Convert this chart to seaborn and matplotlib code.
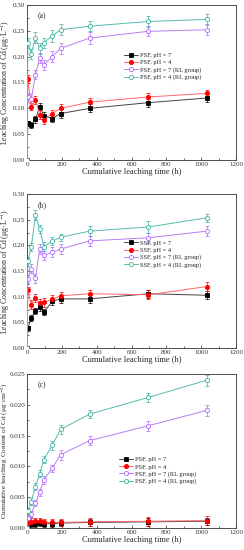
import numpy as np
import pandas as pd
import matplotlib
matplotlib.use("Agg")
import matplotlib.pyplot as plt
import seaborn as sns
from matplotlib.ticker import MultipleLocator

sns.set_theme(style="ticks")
plt.rcParams['font.family'] = ['Liberation Serif', 'DejaVu Serif']
plt.rcParams['mathtext.fontset'] = 'stix'

# ---------------- data ----------------
time_h = [0, 4, 24, 48, 72, 96, 144, 192, 360, 696, 1032]

# panel (a) PSF leaching concentration (ug/L)
a_ph7 = [0, 0.071, 0.068, 0.079, 0.103, 0.086, 0.080, 0.090, 0.100, 0.111, 0.120]
a_ph4 = [0, 0.157, 0.103, 0.116, 0.088, 0.077, 0.090, 0.100, 0.112, 0.122, 0.129]
a_ph7_rl = [0, 0.121, 0.118, 0.165, 0.197, 0.184, 0.200, 0.216, 0.236, 0.249, 0.252]
a_ph4_rl = [0, 0.227, 0.205, 0.237, 0.216, 0.227, 0.240, 0.252, 0.259, 0.268, 0.272]
a_err7 = [0, 0.005, 0.006, 0.007, 0.007, 0.006, 0.007, 0.008, 0.008, 0.008, 0.007]
a_err4 = [0, 0.008, 0.007, 0.008, 0.008, 0.007, 0.007, 0.008, 0.008, 0.007, 0.007]
a_err7rl = [0, 0.008, 0.009, 0.009, 0.010, 0.010, 0.011, 0.010, 0.011, 0.010, 0.011]
a_err4rl = [0, 0.010, 0.009, 0.010, 0.010, 0.010, 0.011, 0.011, 0.010, 0.010, 0.011]

# panel (b) SSF leaching concentration (ug/L)
b_ph7 = [0, 0.039, 0.059, 0.073, 0.080, 0.070, 0.091, 0.096, 0.096, 0.106, 0.103]
b_ph4 = [0, 0.113, 0.085, 0.098, 0.088, 0.089, 0.095, 0.102, 0.106, 0.104, 0.120]
b_ph7_rl = [0, 0.135, 0.155, 0.136, 0.193, 0.181, 0.187, 0.193, 0.209, 0.215, 0.228]
b_ph4_rl = [0, 0.169, 0.197, 0.259, 0.232, 0.198, 0.208, 0.216, 0.228, 0.236, 0.254]
b_err7 = [0, 0.005, 0.006, 0.006, 0.007, 0.006, 0.007, 0.008, 0.008, 0.008, 0.008]
b_err4 = [0, 0.007, 0.008, 0.008, 0.008, 0.008, 0.008, 0.007, 0.008, 0.009, 0.008]
b_err7rl = [0, 0.008, 0.009, 0.009, 0.010, 0.009, 0.010, 0.010, 0.010, 0.010, 0.009]
b_err4rl = [0, 0.009, 0.008, 0.010, 0.008, 0.008, 0.008, 0.007, 0.010, 0.011, 0.008]

# panel (c) PSF cumulative leaching content (ug/cm2)
c_ph7 = [0, 0.0005, 0.0006, 0.0007, 0.0008, 0.0007, 0.0007, 0.0008, 0.0009, 0.0010, 0.0011]
c_ph4 = [0, 0.0008, 0.0010, 0.0011, 0.0011, 0.0009, 0.0009, 0.0009, 0.0010, 0.0011, 0.0012]
c_ph7_rl = [0, 0.0016, 0.0023, 0.0040, 0.0058, 0.0078, 0.0097, 0.0119, 0.0142, 0.0166, 0.0191]
c_ph4_rl = [0, 0.0027, 0.0043, 0.0067, 0.0088, 0.0111, 0.0134, 0.0160, 0.0185, 0.0212, 0.0240]
c_err7 = [0, 0.0004, 0.0005, 0.0005, 0.0005, 0.0005, 0.0005, 0.0005, 0.0006, 0.0006, 0.0006]
c_err4 = [0, 0.0005, 0.0006, 0.0006, 0.0006, 0.0006, 0.0006, 0.0006, 0.0007, 0.0007, 0.0007]
c_err7rl = [0, 0.0005, 0.0005, 0.0005, 0.0006, 0.0006, 0.0006, 0.0008, 0.0008, 0.0008, 0.0009]
c_err4rl = [0, 0.0005, 0.0005, 0.0006, 0.0006, 0.0006, 0.0008, 0.0007, 0.0006, 0.0007, 0.0009]

labels_psf = ["PSF, pH = 7", "PSF, pH = 4", "PSF, pH = 7 (RL group)", "PSF, pH = 4 (RL group)"]
labels_ssf = ["SSF, pH = 7", "SSF, pH = 4", "SSF, pH = 7 (RL group)", "SSF, pH = 4 (RL group)"]

panels = [
    dict(tag="(a)", labels=labels_psf, vals=[a_ph7, a_ph4, a_ph7_rl, a_ph4_rl],
         errs=[a_err7, a_err4, a_err7rl, a_err4rl], ylim=(0, 0.30), ymaj=0.05, ymin=0.025,
         yfmt="%.2f", ylabel="Leaching Concentration of Cd (μg·L$^{-1}$)", leg=(0.44, 0.72),
         ylfs=5.6, ylx=-0.07),
    dict(tag="(b)", labels=labels_ssf, vals=[b_ph7, b_ph4, b_ph7_rl, b_ph4_rl],
         errs=[b_err7, b_err4, b_err7rl, b_err4rl], ylim=(0, 0.30), ymaj=0.05, ymin=0.025,
         yfmt="%.2f", ylabel="Leaching Concentration of Cd (μg·L$^{-1}$)", leg=(0.44, 0.73),
         ylfs=5.6, ylx=-0.07),
    dict(tag="(c)", labels=labels_psf, vals=[c_ph7, c_ph4, c_ph7_rl, c_ph4_rl],
         errs=[c_err7, c_err4, c_err7rl, c_err4rl], ylim=(0, 0.025), ymaj=0.005, ymin=0.0025,
         yfmt="%.3f", ylabel="Cumulative leaching Content of Cd (μg·cm$^{-2}$)", leg=(0.42, 0.49),
         ylfs=5.2, ylx=-0.082),
]

colors = ["#000000", "#ff0000", "#b266ff", "#3fb0a0"]
linecolors = ["#444444", "#ff6666", "#b77ff5", "#55bcb0"]
markers = ["s", "o", "o", "o"]
filled = [True, True, False, False]

fig = plt.figure(figsize=(2.44, 5.5), dpi=100)
axes_pos = [
    [0.111, 0.709, 0.857, 0.282],
    [0.111, 0.367, 0.857, 0.280],
    [0.111, 0.040, 0.857, 0.280],
]

for pos, p in zip(axes_pos, panels):
    ax = fig.add_axes(pos)
    rows = []
    for lab, v in zip(p["labels"], p["vals"]):
        for t, y in zip(time_h, v):
            rows.append(dict(time=t, value=y, series=lab))
    df = pd.DataFrame(rows)
    for i, lab in enumerate(p["labels"]):
        sub = df[df.series == lab]
        ax.errorbar(sub["time"], sub["value"], yerr=p["errs"][i], fmt="none",
                    ecolor=colors[i], elinewidth=0.5, capsize=1.2, capthick=0.5, zorder=2)
        sns.lineplot(data=sub, x="time", y="value", ax=ax, color=linecolors[i],
                     linewidth=0.7, marker=markers[i], markersize=3.0,
                     markerfacecolor=colors[i] if filled[i] else "white",
                     markeredgecolor=colors[i], markeredgewidth=0.6,
                     label=lab, zorder=3, estimator=None, sort=False)
    ax.set_xlim(0, 1200)
    ax.set_ylim(*p["ylim"])
    ax.xaxis.set_major_locator(MultipleLocator(200))
    ax.xaxis.set_minor_locator(MultipleLocator(100))
    ax.yaxis.set_major_locator(MultipleLocator(p["ymaj"]))
    ax.yaxis.set_minor_locator(MultipleLocator(p["ymin"]))
    ax.yaxis.set_major_formatter(matplotlib.ticker.FormatStrFormatter(p["yfmt"]))
    ax.tick_params(which="both", direction="in", labelsize=5, pad=1.5,
                   colors="#333333", width=0.5)
    ax.tick_params(which="major", length=2)
    ax.tick_params(which="minor", length=1.2)
    for s in ax.spines.values():
        s.set_linewidth(0.6)
        s.set_color("#333333")
    ax.set_xlabel("Cumulative leaching time (h)", fontsize=6, labelpad=0.5)
    ax.set_ylabel(p["ylabel"], fontsize=p["ylfs"])
    ax.yaxis.set_label_coords(p["ylx"], 0.5)
    ax.text(0.05, 0.93, p["tag"], transform=ax.transAxes, fontsize=5.6, va="center")
    ax.legend(loc="upper left", bbox_to_anchor=p["leg"], frameon=False, fontsize=4.6,
              handlelength=2.2, handletextpad=0.3, labelspacing=0.25, borderpad=0.2)

fig.savefig("out.png", dpi=100)
